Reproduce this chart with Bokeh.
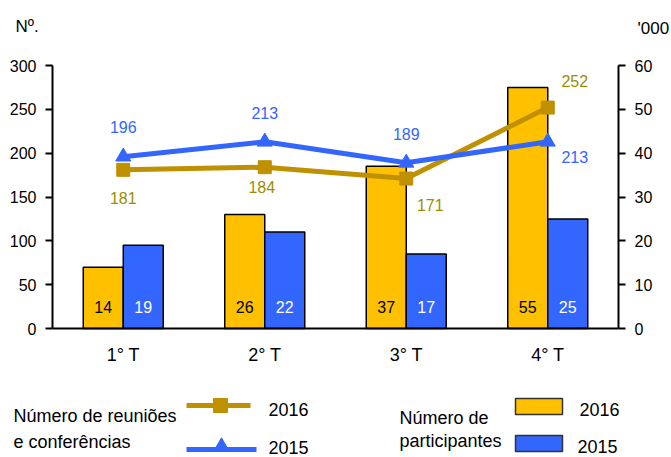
from bokeh.plotting import figure
from bokeh.models import (ColumnDataSource, Range1d, LinearAxis, FixedTicker)
from bokeh.transform import dodge
from bokeh.embed import file_html
from bokeh.resources import INLINE
from bokeh.core.properties import value

# ---- data ----
quarters = ["1° T", "2° T", "3° T", "4° T"]
meetings_2016 = [181, 184, 171, 252]
meetings_2015 = [196, 213, 189, 213]
participants_2016 = [14, 26, 37, 55]
participants_2015 = [19, 22, 17, 25]
left_ticks = [0, 50, 100, 150, 200, 250, 300]
right_ticks = [0, 10, 20, 30, 40, 50, 60]

# label offsets (style, pixels)
off16_x = [0, -3, 24, 27]
off16_y = [28, 20, 26, -27]
off15_x = [0, 0, 0, 27]
off15_y = [-30, -29, -29, 15]

FONT = value("Liberation Sans")
C16_BAR = "#FFC000"
C15_BAR = "#3366FF"
C16_LINE = "#BF9000"
C15_LINE = "#3366FF"
C16_TXT = "#9C8E00"
W, H = 671, 457

# layout geometry (pixels): plot area 52..618 horizontally, 65..328 vertically
PX_L, PX_R, PX_T, PX_B = 52, 618, 65, 328
n = len(quarters)
cat_px = (PX_R - PX_L) / n
x0 = -PX_L / cat_px
x1 = n + (W - PX_R) / cat_px
ppu = (PX_B - PX_T) / left_ticks[-1]
y0 = -(H - PX_B) / ppu
y1 = left_ticks[-1] + PX_T / ppu
ratio = left_ticks[-1] / right_ticks[-1]

xpos = [i + 0.5 for i in range(n)]  # category centres

src = ColumnDataSource(dict(
    x=xpos,
    m16=meetings_2016, m15=meetings_2015,
    p16=participants_2016, p15=participants_2015,
    m16s=[str(v) for v in meetings_2016], m15s=[str(v) for v in meetings_2015],
    p16s=[str(v) for v in participants_2016], p15s=[str(v) for v in participants_2015],
    o16x=off16_x, o16y=off16_y, o15x=off15_x, o15y=off15_y,
))

p = figure(width=W, height=H, x_range=Range1d(x0, x1), y_range=Range1d(y0, y1),
           output_backend="svg", toolbar_location=None, min_border=0,
           x_axis_location=None, y_axis_location=None)
p.extra_y_ranges = {"part": Range1d(y0 / ratio, y1 / ratio), "py": Range1d(H, 0)}
p.extra_x_ranges = {"px": Range1d(0, W)}
p.outline_line_color = None
p.grid.visible = False
p.background_fill_color = "white"
p.border_fill_color = "white"

bw = 40 / cat_px
p.vbar(x=dodge("x", -bw / 2), top="p16", width=bw, source=src,
       y_range_name="part", fill_color=C16_BAR, line_color="black", line_width=1.5)
p.vbar(x=dodge("x", bw / 2), top="p15", width=bw, source=src,
       y_range_name="part", fill_color=C15_BAR, line_color="black", line_width=1.5)

p.text(x=dodge("x", -bw / 2), y=0, text="p16s", source=src,
       y_range_name="part", y_offset=-22, text_align="center", text_baseline="middle",
       text_font=FONT, text_font_size="16px", text_color="black")
p.text(x=dodge("x", bw / 2), y=0, text="p15s", source=src,
       y_range_name="part", y_offset=-22, text_align="center", text_baseline="middle",
       text_font=FONT, text_font_size="16px", text_color="white")

p.line(x="x", y="m16", source=src, line_color=C16_LINE, line_width=5)
p.scatter(x="x", y="m16", source=src, marker="square", size=13,
          fill_color=C16_LINE, line_color=C16_LINE)
p.line(x="x", y="m15", source=src, line_color=C15_LINE, line_width=5)
p.scatter(x="x", y="m15", source=src, marker="triangle", size=15,
          fill_color=C15_LINE, line_color=C15_LINE)

p.text(x="x", y="m16", text="m16s", source=src, x_offset="o16x", y_offset="o16y",
       text_align="center", text_baseline="middle", text_font=FONT,
       text_font_size="16px", text_color=C16_TXT)
p.text(x="x", y="m15", text="m15s", source=src, x_offset="o15x", y_offset="o15y",
       text_align="center", text_baseline="middle", text_font=FONT,
       text_font_size="16px", text_color=C15_LINE)

def style_axis(ax, size="16px"):
    ax.axis_line_width = 2
    ax.axis_line_color = "black"
    ax.major_tick_line_width = 2
    ax.major_tick_line_color = "black"
    ax.minor_tick_line_color = None
    ax.major_label_text_font = "Liberation Sans"
    ax.major_label_text_font_size = size
    ax.major_label_text_color = "black"
    ax.major_tick_in = 0
    ax.major_tick_out = 7
    ax.major_label_standoff = 9

ya = LinearAxis(ticker=FixedTicker(ticks=left_ticks), fixed_location=0,
                bounds=(left_ticks[0], left_ticks[-1]))
style_axis(ya)
p.add_layout(ya, "left")

ra = LinearAxis(y_range_name="part", ticker=FixedTicker(ticks=right_ticks),
                fixed_location=n, bounds=(right_ticks[0], right_ticks[-1]))
style_axis(ra)
p.add_layout(ra, "right")

xa = LinearAxis(ticker=FixedTicker(ticks=xpos), fixed_location=0, bounds=(0, n),
                major_label_overrides={xv: q for xv, q in zip(xpos, quarters)})
style_axis(xa, "18px")
xa.major_tick_line_color = None
xa.major_tick_out = 0
xa.major_label_standoff = 16
p.add_layout(xa, "below")

# ---- header and legend texts (page pixel coordinates) ----
def ptext(x, y, t, size="18px"):
    p.text(x=[x], y=[y], text=[t], text_font=FONT, text_font_size=size,
           text_align="left", text_baseline="alphabetic", text_color="black",
           x_range_name="px", y_range_name="py")

ptext(15, 26, "Nº.", "17px")
ptext(637, 28, "'000", "17px")

ptext(13, 415, "Número de reuniões")
ptext(13, 441, "e conferências")
p.line(x=[186, 250], y=[405, 405], line_color=C16_LINE, line_width=5,
       x_range_name="px", y_range_name="py")
p.scatter(x=[220], y=[405], marker="square", size=14, fill_color=C16_LINE,
          line_color=C16_LINE, x_range_name="px", y_range_name="py")
p.line(x=[186, 256], y=[449, 449], line_color=C15_LINE, line_width=5,
       x_range_name="px", y_range_name="py")
p.scatter(x=[221], y=[446], marker="triangle", size=15, fill_color=C15_LINE,
          line_color=C15_LINE, x_range_name="px", y_range_name="py")
ptext(268, 409, "2016")
ptext(268, 447, "2015")

ptext(399, 417, "Número de")
ptext(399, 440, "participantes")
p.quad(left=[515], right=[562], top=[398], bottom=[414], fill_color=C16_BAR,
       line_color="#333333", line_width=1.5, x_range_name="px", y_range_name="py")
p.quad(left=[515], right=[562], top=[435], bottom=[451], fill_color=C15_BAR,
       line_color="#333333", line_width=1.5, x_range_name="px", y_range_name="py")
ptext(579, 409, "2016")
ptext(577, 446, "2015")

open("out.html", "w").write(file_html(p, INLINE))
